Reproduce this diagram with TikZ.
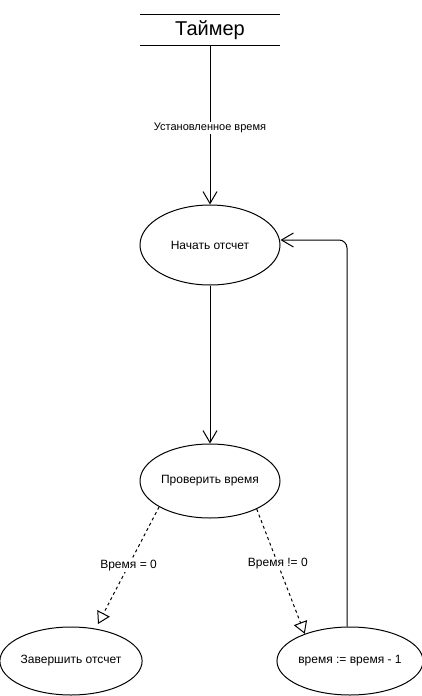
\documentclass[tikz,border=0pt]{standalone}
\usepackage{fontspec}
\setmainfont{Liberation Sans}
\usepackage{tikz}
\usetikzlibrary{shapes.geometric,arrows.meta}

\tikzset{
  state/.style={draw, ellipse, line width=1pt, inner sep=0pt, font=\fontsize{12}{14}\selectfont},
  flow/.style={line width=1pt, -{Straight Barb[length=12pt,width=14pt,line width=1pt]}},
  guard/.style={line width=1pt, dash pattern=on 3pt off 3pt, -{Triangle[open,length=12pt,width=14pt,line width=1pt]}},
  lbl/.style={fill=white, inner sep=1pt, font=\fontsize{12}{14}\selectfont},
}

\begin{document}
\begin{tikzpicture}[x=1pt, y=-1pt]
\useasboundingbox (0,0) rectangle (421,696);

\node[minimum width=140pt, minimum height=30pt, inner sep=0pt, font=\fontsize{20}{24}\selectfont] (timer) at (210,30) {Таймер};
\draw[line width=1pt] (timer.north west) -- (timer.north east);
\draw[line width=1pt] (timer.south west) -- (timer.south east);

\node[state, minimum width=140pt, minimum height=80pt] (start) at (210,245) {Начать отсчет};
\node[state, minimum width=140pt, minimum height=74pt] (check) at (210,481) {Проверить время};
\node[state, minimum width=138pt, minimum height=68pt] (stop) at (71,661) {Завершить отсчет};
\node[state, minimum width=140pt, minimum height=68pt] (dec) at (350,661) {время := время - 1};
\coordinate (stopend) at (98,624);

\draw[flow] (timer.south) -- node[lbl, pos=0.52, font=\fontsize{11}{13}\selectfont] {Установленное время} (start.north);
\draw[flow] (start.south) -- (check.north);
\draw[guard] (check.207) -- node[lbl] {Время = 0} (stopend);
\draw[guard] (check.329) -- node[lbl, pos=0.44] {Время != 0} (dec.149);
\draw[flow, rounded corners=8pt] ([xshift=-3pt]dec.north) |- ([yshift=5pt]start.east);

\end{tikzpicture}
\end{document}
